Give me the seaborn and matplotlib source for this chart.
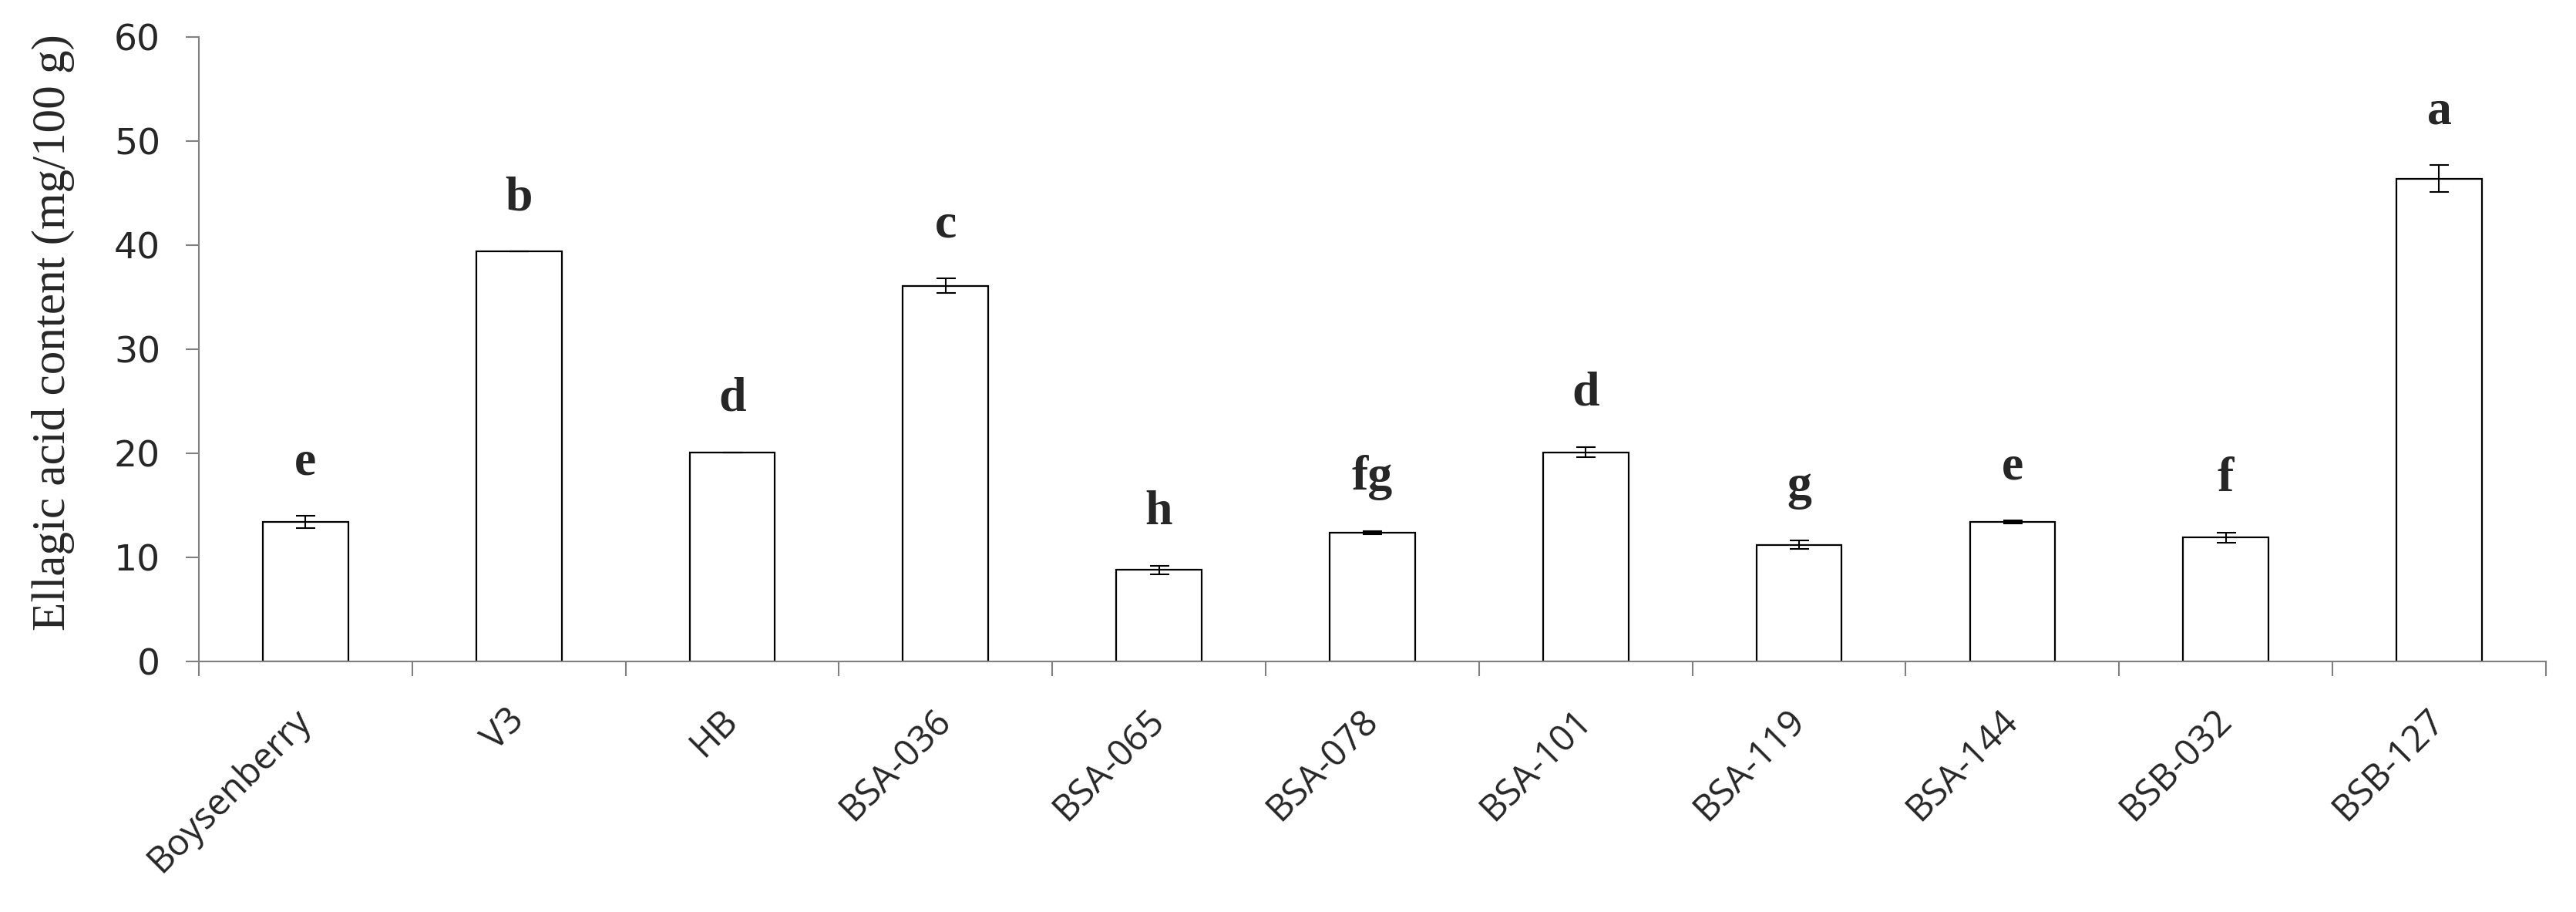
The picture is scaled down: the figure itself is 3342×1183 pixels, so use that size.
import numpy as np
import pandas as pd
import seaborn as sns
import matplotlib.pyplot as plt

# values
cultivars = ['Boysenberry', 'V3', 'HB', 'BSA-036', 'BSA-065', 'BSA-078',
             'BSA-101', 'BSA-119', 'BSA-144', 'BSB-032', 'BSB-127']
ellagic = [13.4, 39.4, 20.1, 36.1, 8.8, 12.4, 20.1, 11.2, 13.4, 11.9, 46.4]
sd = [0.6, 0.0, 0.0, 0.7, 0.4, 0.15, 0.5, 0.4, 0.15, 0.5, 1.3]
letters = ['e', 'b', 'd', 'c', 'h', 'fg', 'd', 'g', 'e', 'f', 'a']

df = pd.DataFrame({'cultivar': cultivars, 'ellagic': ellagic,
                   'sd': sd, 'letter': letters})

sns.set_style('ticks')
plt.rcParams['font.family'] = ['DejaVu Sans']

fig, ax = plt.subplots(figsize=(33.42, 11.83), dpi=100)
fig.subplots_adjust(left=0.0772, right=0.9883, bottom=0.2747, top=0.9594)

sns.barplot(data=df, x='cultivar', y='ellagic', color='white', saturation=1,
            edgecolor='black', linewidth=1.6, width=0.4, errorbar=None, ax=ax)
ax.errorbar(np.arange(len(df)), df['ellagic'], yerr=df['sd'], fmt='none',
            ecolor='black', elinewidth=1.5, capsize=9, capthick=1.5)

# significance letters above each bar
for i, row in df.iterrows():
    ax.text(i, row['ellagic'] + row['sd'] + 4.0, row['letter'],
            ha='center', va='baseline', fontsize=46, fontweight='bold',
            family='Liberation Serif')

n = len(df)
ax.set_xlim(-0.5, n - 0.5)
ax.set_ylim(0, 60)
ax.set_yticks(range(0, 61, 10))

# ticks sit between bars, labels at bar centres
ax.set_xticks(np.arange(-0.5, n), labels=[''] * (n + 1))
ax.set_xticks(np.arange(n), labels=cultivars, minor=True)
ax.tick_params(axis='x', which='major', length=14, width=1.5, color='#808080')
ax.tick_params(axis='x', which='minor', length=0, pad=50, labelsize=34)
for lbl in ax.get_xticklabels(minor=True):
    lbl.set_rotation(45)
    lbl.set_ha('right')
    lbl.set_va('center')
    lbl.set_rotation_mode('anchor')
    lbl.set_fontfamily('Open Sans')

ax.tick_params(axis='y', length=12, width=1.5, color='#808080', pad=24,
               labelsize=34)

ax.set_xlabel('')
ax.set_ylabel('Ellagic acid content (mg/100 g)', fontsize=44,
              family='Liberation Serif')
ax.yaxis.set_label_coords(-0.053, 0.527)

sns.despine(ax=ax)
for side in ['left', 'bottom']:
    ax.spines[side].set_color('#808080')
    ax.spines[side].set_linewidth(1.5)

fig.savefig('out.png', dpi=100)
